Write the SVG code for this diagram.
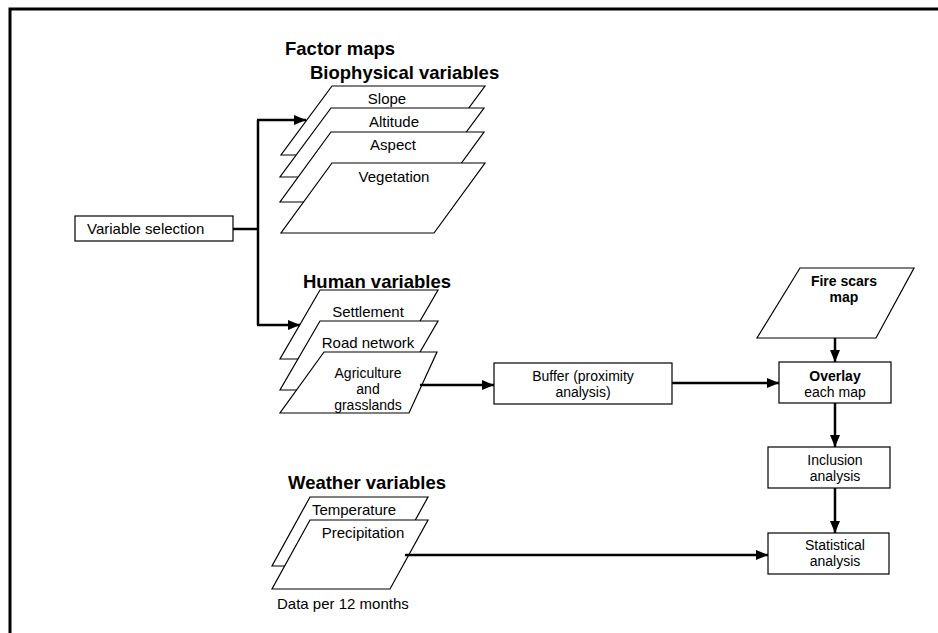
<svg xmlns="http://www.w3.org/2000/svg" width="938" height="633" viewBox="0 0 938 633">
<defs>
<marker id="arr" markerUnits="userSpaceOnUse" markerWidth="12" markerHeight="10" refX="12" refY="5" orient="auto">
<path d="M0,0 L12,5 L0,10 z" fill="#000"/>
</marker>
<style>
.shape{fill:#fff;stroke:#000;stroke-width:1.2}
.t{font-family:"Liberation Sans",Arial,sans-serif;font-size:15px;fill:#000}
.s{font-size:14px}
.c{text-anchor:middle}
.h{font-family:"Liberation Sans",Arial,sans-serif;font-size:18.5px;font-weight:bold;fill:#000}
.b{font-weight:bold}
.con{fill:none;stroke:#000;stroke-width:2.5}
</style>
</defs>
<rect width="938" height="633" fill="#fff"/>
<path d="M10,633 V9 H938" fill="none" stroke="#000" stroke-width="3"/>

<text class="h" x="285" y="55">Factor maps</text>
<text class="h" x="310" y="79">Biophysical variables</text>
<text class="h" x="303" y="288">Human variables</text>
<text class="h" x="288" y="489">Weather variables</text>

<g id="var-selection">
<rect class="shape" x="75" y="216" width="158" height="25"/>
<text class="t" x="87" y="234">Variable selection</text>
</g>

<g id="slope">
<polygon class="shape" points="332,86 485,86 434,155 281,155"/>
<text class="t c" x="387" y="104">Slope</text>
</g>
<g id="altitude">
<polygon class="shape" points="331,108 484,108 433,177 280,177"/>
<text class="t c" x="394" y="127">Altitude</text>
</g>
<g id="aspect">
<polygon class="shape" points="331,132 484,132 433,202 280,202"/>
<text class="t c" x="393" y="150">Aspect</text>
</g>
<g id="vegetation">
<polygon class="shape" points="332,163 485,163 434,233 281,233"/>
<text class="t c" x="394" y="182">Vegetation</text>
</g>

<g id="settlement">
<polygon class="shape" points="320,290 438,290 398,359 280,359"/>
<text class="t c" x="368" y="317">Settlement</text>
</g>
<g id="road-network">
<polygon class="shape" points="320,321 438,321 398,390 280,390"/>
<text class="t c" x="368" y="348">Road network</text>
</g>
<g id="agriculture">
<polygon class="shape" points="324,352 437,352 409,413 280,413"/>
<text class="t s c" x="368" y="378">Agriculture</text>
<text class="t s c" x="368" y="394">and</text>
<text class="t s c" x="368" y="410">grasslands</text>
</g>

<g id="buffer">
<rect class="shape" x="494" y="363" width="178" height="41"/>
<text class="t s c" x="583" y="381">Buffer (proximity</text>
<text class="t s c" x="583" y="397">analysis)</text>
</g>

<g id="fire-scars">
<polygon class="shape" points="800,268 914,268 876,338 757,338"/>
<text class="t s c b" x="844" y="286">Fire scars</text>
<text class="t s c b" x="844" y="302">map</text>
</g>

<g id="overlay">
<rect class="shape" x="779" y="362" width="112" height="41"/>
<text class="t s c b" x="835" y="381">Overlay</text>
<text class="t s c" x="835" y="397">each map</text>
</g>

<g id="inclusion">
<rect class="shape" x="768" y="447" width="122" height="41"/>
<text class="t s c" x="835" y="465">Inclusion</text>
<text class="t s c" x="835" y="481">analysis</text>
</g>

<g id="statistical">
<rect class="shape" x="768" y="533" width="121" height="41"/>
<text class="t s c" x="835" y="550">Statistical</text>
<text class="t s c" x="835" y="566">analysis</text>
</g>

<g id="temperature">
<polygon class="shape" points="310,497 428,497 390,566 272,566"/>
<text class="t c" x="354" y="515">Temperature</text>
</g>
<g id="precipitation">
<polygon class="shape" points="310,520 428,520 390,589 272,589"/>
<text class="t c" x="363" y="538">Precipitation</text>
</g>
<text class="t" x="277" y="609">Data per 12 months</text>

<g id="connectors">
<path class="con" d="M233,229 H258"/>
<path class="con" d="M258,120 V325"/>
<path class="con" d="M257,120 H306" marker-end="url(#arr)"/>
<path class="con" d="M257,325 H300" marker-end="url(#arr)"/>
<path class="con" d="M420,385 H494" marker-end="url(#arr)"/>
<path class="con" d="M672,383 H779" marker-end="url(#arr)"/>
<path class="con" d="M835,338 V362" marker-end="url(#arr)"/>
<path class="con" d="M835,403 V447" marker-end="url(#arr)"/>
<path class="con" d="M835,488 V533" marker-end="url(#arr)"/>
<path class="con" d="M405,555 H768" marker-end="url(#arr)"/>
</g>
</svg>
